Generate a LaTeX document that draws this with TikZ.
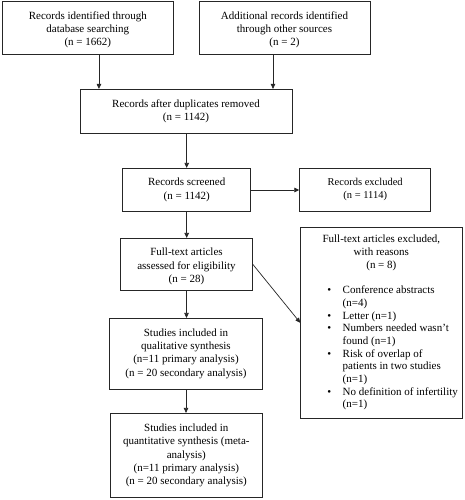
\documentclass[tikz,border=0pt]{standalone}
\usepackage{fontspec}
\setmainfont{Liberation Serif}
\usetikzlibrary{arrows.meta,calc}
\newlength{\rsnW}\setlength{\rsnW}{107.9pt}
\newcommand{\rsnitem}[1]{\makebox[\rsnW][l]{\makebox[15.3pt][l]{\textbullet}#1}}
\newcommand{\rsncont}[1]{\makebox[\rsnW][l]{\hspace{15.3pt}#1}}
\newcommand{\topstrut}{\rule{0pt}{12pt}}
\tikzset{
  box/.style={draw=black!85, line width=0.8pt, fill=white, align=center, inner sep=2pt,
    font=\fontsize{11}{13.3}\selectfont},
  arr/.style={draw=black!85, line width=0.7pt, -{Triangle[length=5pt,width=4.5pt]}},
}
\begin{document}
\begin{tikzpicture}[x=1pt,y=-1pt]
\useasboundingbox[fill=white] (0,0) rectangle (464,500);
\node[box, minimum width=170.3pt, minimum height=52.3pt] (b1) at (87.85,27.85)
  {\topstrut Records identified through\\ database searching\\ (n = 1662)};
\node[box, minimum width=171pt, minimum height=52.3pt] (b2) at (284.5,27.85)
  {\topstrut Additional records identified\\ through other sources\\ (n = 2)};
\node[box, minimum width=212pt, minimum height=44pt] (b3) at (186,111.3)
  {Records after duplicates removed\\ (n = 1142)};
\node[box, minimum width=128pt, minimum height=43.4pt] (b4) at (186.7,190)
  {Records screened\\ (n = 1142)};
\node[box, minimum width=131pt, minimum height=43pt, font=\fontsize{10.5}{13.3}\selectfont] (ex) at (365.2,189.5)
  {Records excluded\\ (n = 1114)};
\node[box, minimum width=131.6pt, minimum height=51.7pt] (b5) at (186.5,264.2)
  {\topstrut Full-text articles\\ assessed for eligibility\\ (n = 28)};
\node[box, minimum width=161.3pt, minimum height=191pt, font=\fontsize{11}{12.7}\selectfont] (rsn) at (381.35,322.8)
  {Full-text articles excluded,\\ with reasons\\ (n = 8)\\[12.7pt]
   \rsnitem{Conference abstracts}\\
   \rsncont{(n=4)}\\
   \rsnitem{Letter (n=1)}\\
   \rsnitem{Numbers needed wasn't}\\
   \rsncont{found (n=1)}\\
   \rsnitem{Risk of overlap of}\\
   \rsncont{patients in two studies}\\
   \rsncont{(n=1)}\\
   \rsnitem{No definition of infertility}\\
   \rsncont{(n=1)}};
\node[box, minimum width=153.4pt, minimum height=70.7pt] (b6) at (186,353.7)
  {Studies included in\\ qualitative synthesis\\ (n=11 primary analysis)\\ (n = 20 secondary analysis)};
\node[box, minimum width=152pt, minimum height=84.4pt] (b7) at (186.3,455.5)
  {Studies included in\\ quantitative synthesis (meta-\\ analysis)\\ (n=11 primary analysis)\\ (n = 20 secondary analysis)};
\draw[arr] ([xshift=11.1pt]b1.south) -- ([xshift=11.1pt]b1.south |- b3.north);
\draw[arr] ([xshift=-11.5pt]b2.south) -- ([xshift=-11.5pt]b2.south |- b3.north);
\draw[arr] (b3.south -| b4.north) -- (b4.north);
\draw[arr] (b4.east) -- (b4.east -| ex.west);
\draw[arr] (b4.south) -- (b4.south |- b5.north);
\draw[arr] (b5.east) -- (rsn.west);
\draw[arr] (b5.south) -- (b5.south |- b6.north);
\draw[arr] (b6.south) -- (b6.south |- b7.north);
\end{tikzpicture}
\end{document}
